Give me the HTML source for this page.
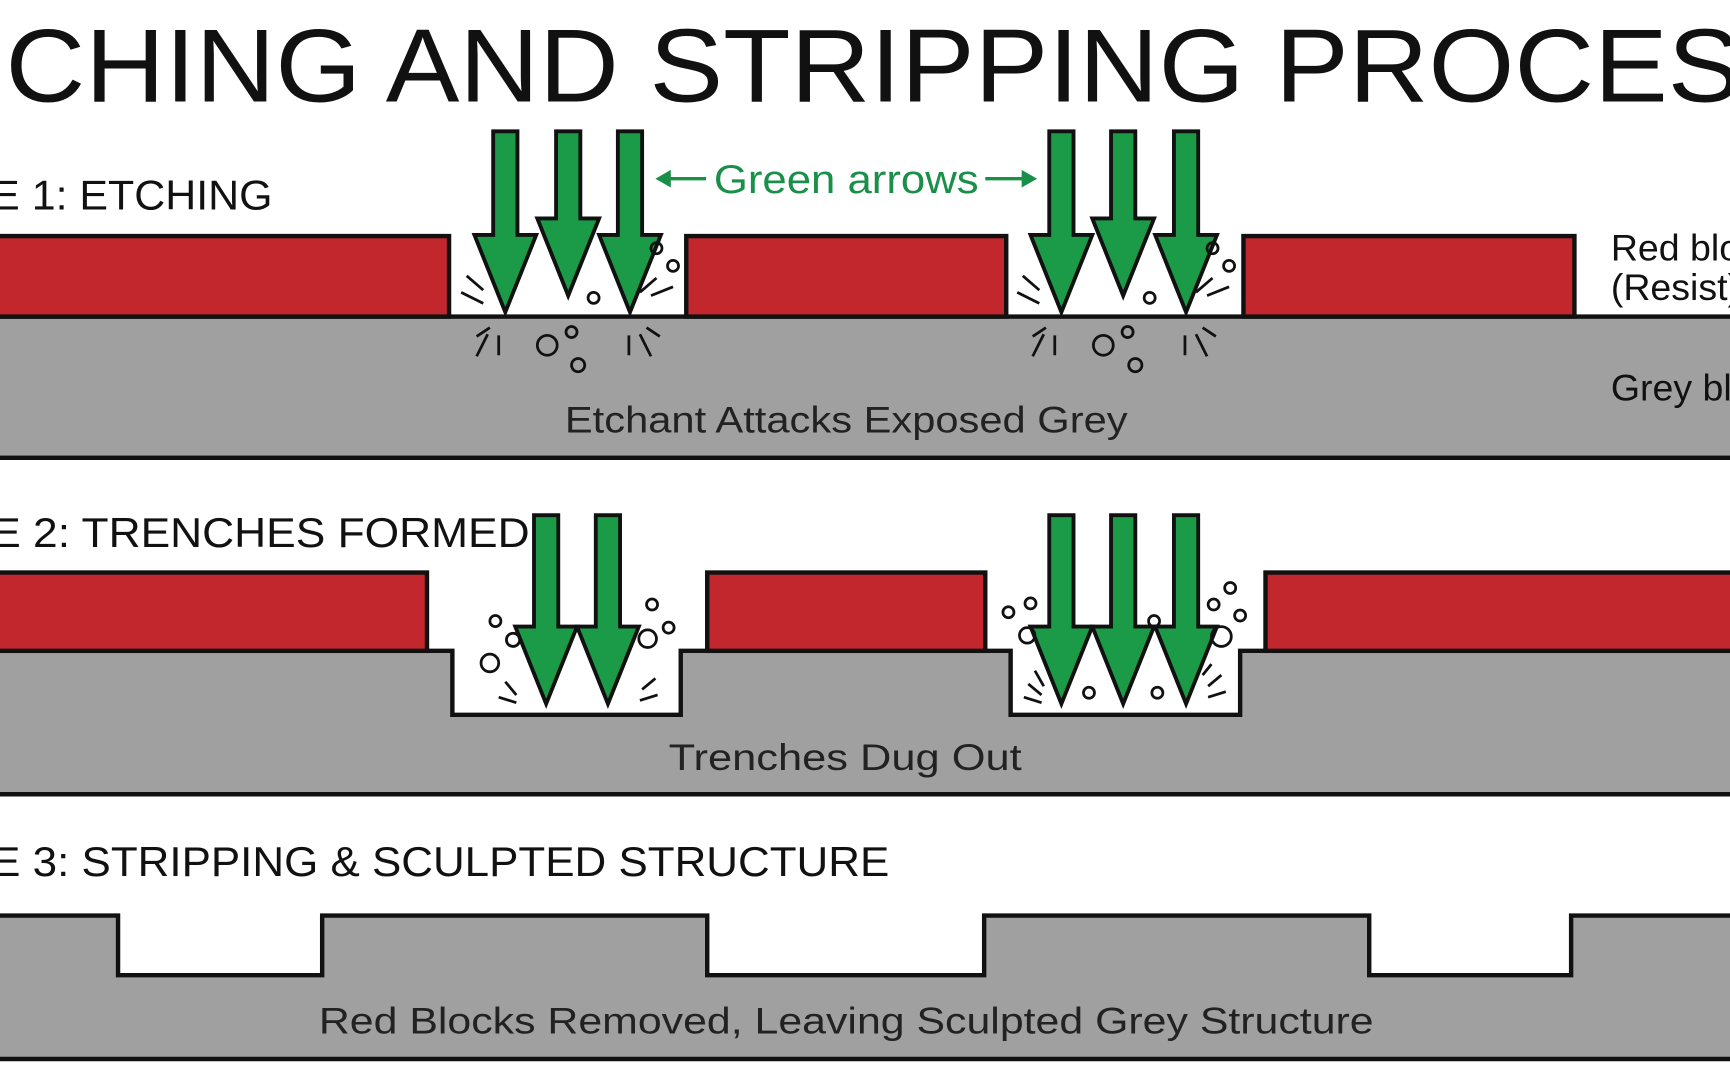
<!DOCTYPE html>
<html><head><meta charset="utf-8"><style>
html,body{margin:0;padding:0;background:#fff;overflow:hidden}
svg{display:block}
text{font-family:"Liberation Sans",sans-serif}
</style></head><body>
<svg width="1730" height="1091" viewBox="0 0 1568 989" preserveAspectRatio="none" xmlns="http://www.w3.org/2000/svg">
<defs>
<g id="ar"><polygon points="-11,0 11,0 11,-70 28,-70 0,0 -28,-70 -11,-70" /></g>
</defs>
<rect width="1568" height="989" fill="#fff"/>
<!-- Title -->
<text x="5" y="92" font-size="94" fill="#111" textLength="1640" lengthAdjust="spacingAndGlyphs">CHING AND STRIPPING PROCESS</text>
<!-- Stage labels -->
<text x="-8" y="190" font-size="38" fill="#111" textLength="255" lengthAdjust="spacingAndGlyphs">E 1: ETCHING</text>
<text x="-8" y="496" font-size="38" fill="#111" textLength="488" lengthAdjust="spacingAndGlyphs">E 2: TRENCHES FORMED</text>
<text x="-8" y="794" font-size="38" fill="#111" textLength="814" lengthAdjust="spacingAndGlyphs">E 3: STRIPPING &amp; SCULPTED STRUCTURE</text>

<!-- Stage 1 -->
<rect x="-5" y="287" width="1580" height="128" fill="#a0a0a0" stroke="#111" stroke-width="4"/>
<g fill="#c1272d" stroke="#111" stroke-width="4">
<rect x="-5" y="214" width="412" height="73"/>
<rect x="622" y="214" width="290" height="73"/>
<rect x="1127" y="214" width="300" height="73"/>
</g>
<text x="1460" y="236" font-size="34" fill="#111">Red blocks</text>
<text x="1460" y="272" font-size="34" fill="#111">(Resist)</text>
<text x="1460" y="363" font-size="34" fill="#111">Grey block</text>
<text x="767" y="392" font-size="34" fill="#222" text-anchor="middle" textLength="510" lengthAdjust="spacingAndGlyphs">Etchant Attacks Exposed Grey</text>

<!-- green arrows label -->
<text x="767" y="175" font-size="36" fill="#1a8f4a" text-anchor="middle" textLength="240" lengthAdjust="spacingAndGlyphs">Green arrows</text>
<g stroke="#1a8f4a" stroke-width="3" fill="#1a8f4a">
<line x1="605" y1="162" x2="640" y2="162"/><polygon points="594,162 608,154 608,170" stroke="none"/>
<line x1="893" y1="162" x2="928" y2="162"/><polygon points="940,162 926,154 926,170" stroke="none"/>
</g>

<g fill="#1b9a48" stroke="#111" stroke-width="3.5" stroke-linejoin="miter">
<polygon points="447,119 469,119 469,213 486,213 458,283 430,213 447,213"/>
<polygon points="504,119 526,119 526,198 543,198 515,268 487,198 504,198"/>
<polygon points="560,119 582,119 582,213 599,213 571,283 543,213 560,213"/>
<polygon points="951,119 973,119 973,213 990,213 962,283 934,213 951,213"/>
<polygon points="1007,119 1029,119 1029,198 1046,198 1018,268 990,198 1007,198"/>
<polygon points="1064,119 1086,119 1086,213 1103,213 1075,283 1047,213 1064,213"/>
</g>
<g fill="none" stroke="#111" stroke-width="2.5">
<circle cx="595" cy="225" r="5"/><circle cx="610" cy="241" r="5"/><circle cx="538" cy="270" r="5"/>
<circle cx="496" cy="313" r="9"/><circle cx="518" cy="301" r="5"/><circle cx="524" cy="331" r="6"/>
<circle cx="1099" cy="225" r="5"/><circle cx="1114" cy="241" r="5"/><circle cx="1042" cy="270" r="5"/>
<circle cx="1000" cy="313" r="9"/><circle cx="1022" cy="301" r="5"/><circle cx="1029" cy="331" r="6"/>
<path d="M418 265l20 10M423 250l15 13M432 305l12 -8M432 323l10 -20M452 322l0 -18M590 268l20 -8M595 252l-15 13M570 322l0 -18M590 323l-10 -20M598 305l-12 -8"/>
<path d="M922 265l20 10M927 250l15 13M936 305l12 -8M936 323l10 -20M956 322l0 -18M1094 268l20 -8M1099 252l-15 13M1074 322l0 -18M1094 323l-10 -20M1102 305l-12 -8"/>
</g>

<!-- Stage 2 -->
<path d="M-5 590 H410 V648 H617 V590 H916 V648 H1124 V590 H1575 V720 H-5 Z" fill="#a0a0a0" stroke="#111" stroke-width="4"/>
<g fill="#c1272d" stroke="#111" stroke-width="4">
<rect x="-5" y="519" width="392" height="71"/>
<rect x="641" y="519" width="252" height="71"/>
<rect x="1147" y="519" width="430" height="71"/>
</g>
<g fill="#1b9a48" stroke="#111" stroke-width="3.5">
<polygon points="484,467 506,467 506,568 523,568 495,638 467,568 484,568"/>
<polygon points="540,467 562,467 562,568 579,568 551,638 523,568 540,568"/>
<polygon points="951,467 973,467 973,568 990,568 962,638 934,568 951,568"/>
<polygon points="1007,467 1029,467 1029,568 1046,568 1018,638 990,568 1007,568"/>
<polygon points="1064,467 1086,467 1086,568 1103,568 1075,638 1047,568 1064,568"/>
</g>
<g fill="none" stroke="#111" stroke-width="2.5">
<circle cx="449" cy="563" r="5"/><circle cx="465" cy="580" r="6"/><circle cx="444" cy="601" r="8"/>
<circle cx="591" cy="548" r="5"/><circle cx="606" cy="569" r="5"/><circle cx="587" cy="579" r="8"/>
<circle cx="914" cy="555" r="5"/><circle cx="934" cy="547" r="5"/><circle cx="931" cy="576" r="7"/>
<circle cx="1046" cy="563" r="5"/><circle cx="987" cy="628" r="5"/><circle cx="1049" cy="628" r="5"/>
<circle cx="1115" cy="533" r="5"/><circle cx="1100" cy="548" r="5"/><circle cx="1124" cy="558" r="5"/><circle cx="1107" cy="577" r="9"/>
<path d="M452 632l16 5M458 618l10 12M580 635l16 -5M582 625l12 -10M928 632l16 5M932 620l12 10M938 608l8 14M1095 632l16 -5M1095 622l12 -10M1090 612l8 -10"/>
</g>
<text x="766" y="698" font-size="34" fill="#222" text-anchor="middle" textLength="320" lengthAdjust="spacingAndGlyphs">Trenches Dug Out</text>

<!-- Stage 3 -->
<path d="M-5 830 H107 V884 H292 V830 H641 V884 H892 V830 H1241 V884 H1424 V830 H1575 V960 H-5 Z" fill="#a0a0a0" stroke="#111" stroke-width="4"/>
<text x="767" y="937" font-size="34" fill="#222" text-anchor="middle" textLength="956" lengthAdjust="spacingAndGlyphs">Red Blocks Removed, Leaving Sculpted Grey Structure</text>
</svg>
</body></html>
